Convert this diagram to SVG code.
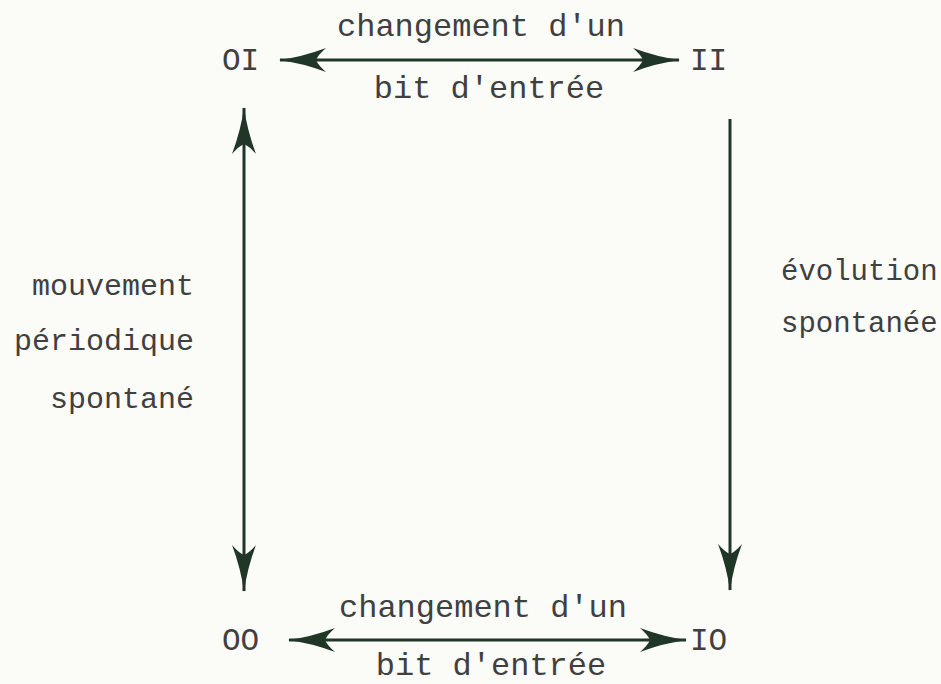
<svg xmlns="http://www.w3.org/2000/svg" width="941" height="684" viewBox="0 0 941 684">
<defs>
<style>
text{font-family:"Liberation Mono","Courier New",monospace;font-size:30px;fill:#404040}
.lbl{font-size:31px}
.h{font-size:32px}
.r{font-size:29px}
.c{stroke:#203626;stroke-width:3;fill:none}
</style>
<marker id="ah" markerUnits="userSpaceOnUse" viewBox="-48 -13 50 26" refX="0" refY="0" markerWidth="50" markerHeight="26" orient="auto-start-reverse">
<path d="M1,0 Q-22,-3 -46,-12 Q-38,-5 -36,0 Q-38,5 -46,12 Q-22,3 1,0 Z" fill="#203626"/>
</marker>
</defs>
<rect width="941" height="684" fill="#fbfbf8"/>
<g id="connectors">
<line class="c" x1="280" y1="60" x2="679" y2="60" marker-start="url(#ah)" marker-end="url(#ah)"/>
<line class="c" x1="289" y1="640" x2="686" y2="640" marker-start="url(#ah)" marker-end="url(#ah)"/>
<line class="c" x1="244" y1="108" x2="244" y2="591" marker-start="url(#ah)" marker-end="url(#ah)"/>
<line class="c" x1="730" y1="119" x2="730" y2="590" marker-end="url(#ah)"/>
<text class="h" x="481" y="36" text-anchor="middle">changement d'un</text>
<text class="h" x="489" y="98" text-anchor="middle">bit d'entrée</text>
<text class="h" x="483" y="617" text-anchor="middle">changement d'un</text>
<text class="h" x="491" y="675" text-anchor="middle">bit d'entrée</text>
<text x="194" y="295" text-anchor="end">mouvement</text>
<text x="194" y="350" text-anchor="end">périodique</text>
<text x="194" y="408" text-anchor="end">spontané</text>
<text class="r" x="781" y="280">évolution</text>
<text class="r" x="781" y="332">spontanée</text>
</g>
<g id="OI"><text class="lbl" x="222" y="70">OI</text></g>
<g id="II"><text class="lbl" x="690" y="70">II</text></g>
<g id="OO"><text class="lbl" x="222" y="650">OO</text></g>
<g id="IO"><text class="lbl" x="690" y="650">IO</text></g>
</svg>
